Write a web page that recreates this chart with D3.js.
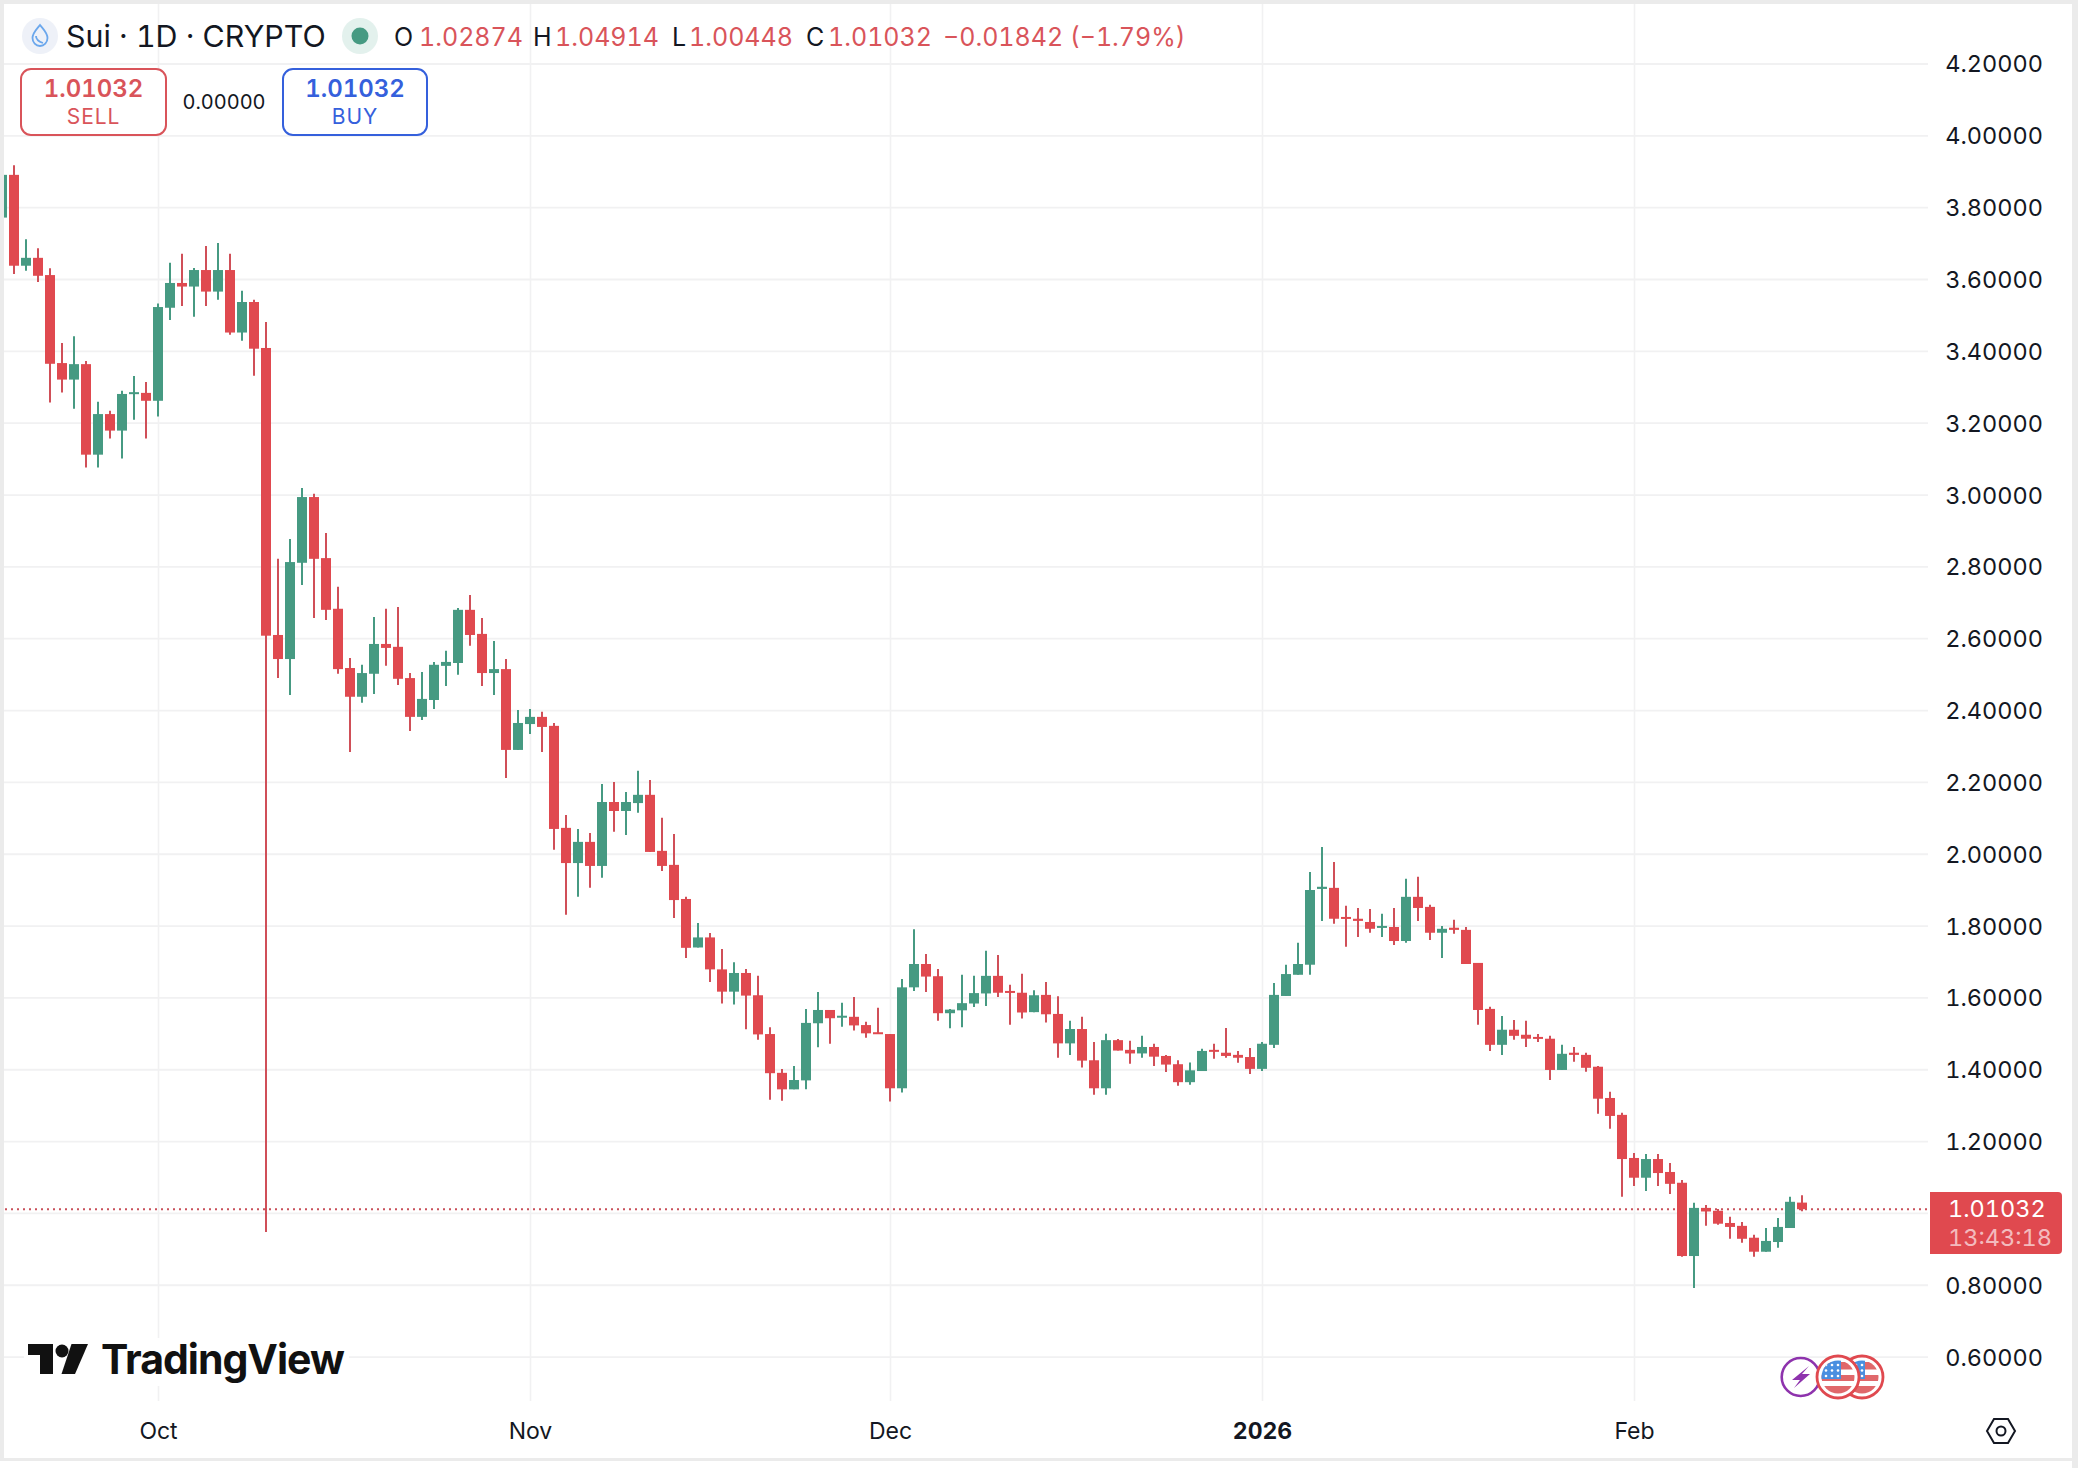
<!DOCTYPE html>
<html>
<head>
<meta charset="utf-8">
<title>Sui 1D</title>
<script src="https://d3js.org/d3.v7.min.js"></script>
<style>
	html, body { margin: 0; padding: 0; background: #fff; }
	svg { display: block; }
	text { font-family: Inter, "Noto Sans", sans-serif; fill: #131722; font-variant-numeric: tabular-nums; }
</style>
</head>
<body>
<div id="chart"></div>
<script>
// daily candles, first one is 18 Sep 2025
var firstDay = new Date(Date.UTC(2025, 8, 18));

var opens = [3.771,3.890,3.637,3.659,3.611,3.366,3.320,3.363,3.111,3.224,3.178,3.280,3.283,
	3.261,3.520,3.589,3.579,3.625,3.565,3.625,3.451,3.536,3.408,
	2.609,2.542,2.810,2.993,2.823,2.682,2.517,2.437,2.501,2.584,2.576,2.489,2.381,2.428,2.523,2.531,2.679,2.612,2.503,2.514,2.289,2.361,2.381,2.356,2.072,
	1.974,2.033,1.966,2.144,2.119,2.141,2.164,2.008,1.969,1.874,
	1.739,1.767,1.678,1.616,1.668,1.606,1.498,1.390,1.344,1.369,1.528,1.565,1.544,1.546,1.523,1.503,1.498,1.347,1.628,1.693,1.659,1.556,1.564,1.583,1.611,1.660,1.618,1.613,1.559,1.607,1.554,1.472,1.512,1.425,1.347,1.481,1.454,1.444,1.462,1.437,1.414,1.364,
	1.395,1.454,1.446,1.440,1.434,1.401,1.468,1.604,1.663,1.691,1.902,1.905,1.824,1.819,1.810,1.794,1.796,1.757,1.880,1.852,1.780,1.794,1.788,1.696,1.568,1.468,1.510,1.496,1.490,1.485,1.398,1.446,1.440,1.407,1.320,1.273,1.153,1.098,1.150,1.114,1.084,0.880,1.014,1.006,0.972,0.964,0.931,0.892,0.919,0.958,1.02874];
var highs = [3.890,3.917,3.711,3.686,3.630,3.422,3.441,3.372,3.258,3.233,3.289,3.330,3.313,
	3.532,3.645,3.670,3.631,3.692,3.700,3.670,3.567,3.542,3.480,
	2.821,2.876,3.018,3.002,2.893,2.743,2.545,2.526,2.659,2.682,2.687,2.503,2.506,2.534,2.565,2.684,2.720,2.656,2.592,2.542,2.400,2.403,2.395,2.364,2.108,
	2.069,2.058,2.194,2.200,2.172,2.231,2.205,2.100,2.055,1.880,
	1.807,1.779,1.735,1.698,1.679,1.660,1.517,1.401,1.409,1.568,1.615,1.565,1.585,1.601,1.532,1.571,1.498,1.651,1.790,1.721,1.679,1.568,1.663,1.660,1.730,1.718,1.635,1.666,1.620,1.643,1.603,1.535,1.546,1.476,1.499,1.484,1.479,1.493,1.471,1.440,1.425,1.419,
	1.457,1.471,1.515,1.451,1.459,1.476,1.640,1.691,1.752,1.949,2.019,1.977,1.855,1.849,1.846,1.833,1.849,1.930,1.936,1.858,1.799,1.816,1.796,1.696,1.574,1.548,1.537,1.535,1.498,1.493,1.468,1.462,1.446,1.409,1.337,1.279,1.167,1.164,1.164,1.139,1.092,1.028,1.022,1.011,0.989,0.975,0.939,0.958,0.986,1.045,1.04914];
var lows = [3.771,3.614,3.623,3.592,3.256,3.284,3.239,3.075,3.075,3.156,3.100,3.208,3.156,
	3.217,3.486,3.525,3.495,3.525,3.542,3.445,3.428,3.331,0.947,
	2.489,2.442,2.748,2.656,2.651,2.501,2.283,2.420,2.445,2.523,2.470,2.342,2.372,2.403,2.467,2.498,2.579,2.467,2.442,2.211,2.289,2.333,2.283,2.011,1.830,
	1.880,1.905,1.933,2.061,2.052,2.114,2.005,1.952,1.821,1.710,
	1.739,1.643,1.583,1.580,1.511,1.482,1.315,1.312,1.344,1.344,1.461,1.471,1.518,1.508,1.488,1.500,1.310,1.335,1.618,1.615,1.535,1.514,1.517,1.573,1.576,1.601,1.524,1.541,1.559,1.530,1.432,1.440,1.405,1.329,1.329,1.452,1.415,1.432,1.409,1.392,1.354,1.357,
	1.395,1.429,1.432,1.418,1.387,1.395,1.459,1.604,1.663,1.663,1.813,1.805,1.741,1.768,1.780,1.768,1.746,1.752,1.813,1.760,1.710,1.777,1.693,1.524,1.451,1.440,1.482,1.462,1.476,1.370,1.398,1.421,1.393,1.276,1.234,1.045,1.075,1.061,1.075,1.053,0.878,0.791,0.964,0.967,0.928,0.917,0.878,0.892,0.903,0.958,1.00448];
var closes = [3.890,3.637,3.659,3.609,3.364,3.320,3.363,3.111,3.224,3.178,3.280,3.285,3.261,
	3.522,3.589,3.579,3.625,3.565,3.625,3.451,3.536,3.406,2.607,
	2.542,2.812,2.993,2.821,2.679,2.514,2.437,2.503,2.584,2.573,2.487,2.381,2.431,2.526,2.534,2.679,2.609,2.503,2.514,2.289,2.364,2.381,2.353,2.069,1.974,
	2.033,1.966,2.144,2.119,2.144,2.164,2.005,1.966,1.871,1.738,
	1.767,1.678,1.616,1.668,1.605,1.497,1.389,1.344,1.370,1.529,1.565,1.542,1.549,1.522,1.500,1.500,1.347,1.628,1.693,1.658,1.556,1.566,1.584,1.612,1.660,1.613,1.614,1.558,1.606,1.553,1.472,1.512,1.424,1.347,1.481,1.452,1.444,1.462,1.435,1.413,1.364,1.397,
	1.451,1.449,1.437,1.432,1.401,1.471,1.607,1.665,1.693,1.899,1.908,1.819,1.819,1.813,1.791,1.799,1.757,1.880,1.849,1.780,1.791,1.788,1.693,1.565,1.468,1.510,1.493,1.485,1.485,1.398,1.443,1.440,1.404,1.318,1.270,1.150,1.098,1.150,1.111,1.081,0.880,1.014,1.004,0.970,0.961,0.928,0.892,0.922,0.961,1.031,1.01032];

var priceTicks = [4.2,4.0,3.8,3.6,3.4,3.2,3.0,2.8,2.6,2.4,2.2,2.0,1.8,1.6,1.4,1.2,0.8,0.6];
var gridPrices = [4.2,4.0,3.8,3.6,3.4,3.2,3.0,2.8,2.6,2.4,2.2,2.0,1.8,1.6,1.4,1.2,1.0,0.8,0.6];
var monthTicks = [new Date(Date.UTC(2025,9,1)), new Date(Date.UTC(2025,10,1)), new Date(Date.UTC(2025,11,1)), new Date(Date.UTC(2026,0,1)), new Date(Date.UTC(2026,1,1))];
var monthLabels = ["Oct","Nov","Dec","2026","Feb"];
var quote = {o:"1.02874", h:"1.04914", l:"1.00448", c:"1.01032", chg:"\u22120.01842 (\u22121.79%)"};
var lastPrice = 1.01032;

var days = opens.map(function(d, i){ return d3.utcDay.offset(firstDay, i); });

var W = 2078, H = 1468;
var red = "#e0494f", wickRed = "#d04f58", textRed = "#d9545a", green = "#469a82", blue = "#3560dc";
var left = 4, top_ = 4, plotRight = 1928, plotBottom = 1401, frameRight = 2072, frameBottom = 1458;

var svg = d3.select("#chart").append("svg").attr("width", W).attr("height", H);

// grey frame around the card, white below it
svg.append("rect").attr("width", W).attr("height", H).attr("fill", "#ebebeb");
svg.append("rect").attr("x", 0).attr("y", 1461).attr("width", frameRight).attr("height", 7).attr("fill", "#fff");
svg.append("rect").attr("x", left).attr("y", top_).attr("width", frameRight-left).attr("height", frameBottom-top_).attr("fill", "#fff");

var x = d3.scaleUtc().domain([monthTicks[0], days[days.length-1]]).range([158, 1802]);
var y = d3.scaleLinear().domain([4.2, 0.6]).range([63.5, 1356.6]);

svg.append("clipPath").attr("id", "plot").append("rect")
	.attr("x", left).attr("y", top_).attr("width", plotRight-left).attr("height", plotBottom-top_);

// grid, drawn with the axis ticks
var gridY = svg.append("g").attr("transform", "translate(" + plotRight + ",0)")
	.call(d3.axisLeft(y).tickValues(gridPrices).tickSize(plotRight-left).tickFormat(""));
gridY.select(".domain").remove();
gridY.selectAll("line").attr("stroke", "#f1f1f2").attr("stroke-width", 1.8);

var gridX = svg.append("g").attr("transform", "translate(0," + plotBottom + ")")
	.call(d3.axisTop(x).tickValues(monthTicks).tickSize(plotBottom-top_).tickFormat(""));
gridX.select(".domain").remove();
gridX.selectAll("line").attr("stroke", "#f1f1f2").attr("stroke-width", 1.6);

// TradingView mark sits on a white patch that cuts the grid
svg.append("rect").attr("x", 24).attr("y", 1338).attr("width", 325).attr("height", 48).attr("fill", "#fff");

// last price line
svg.append("line").attr("x1", left+1).attr("x2", plotRight).attr("y1", y(lastPrice)).attr("y2", y(lastPrice))
	.attr("stroke", "#c9505a").attr("stroke-width", 2).attr("stroke-dasharray", "2 4");

// candles
var candles = svg.append("g").attr("clip-path", "url(#plot)");
var rows = d3.range(days.length);
candles.selectAll("line").data(rows).join("line")
	.attr("x1", function(i){ return x(days[i]); })
	.attr("x2", function(i){ return x(days[i]); })
	.attr("y1", function(i){ return y(highs[i]); })
	.attr("y2", function(i){ return y(lows[i]); })
	.attr("stroke", function(i){ return closes[i] >= opens[i] ? green : wickRed; })
	.attr("stroke-width", 2);
candles.selectAll("rect").data(rows).join("rect")
	.attr("x", function(i){ return x(days[i]) - 5; })
	.attr("width", 10)
	.attr("y", function(i){ return y(Math.max(opens[i], closes[i])); })
	.attr("height", function(i){ return Math.max(2, Math.abs(y(opens[i]) - y(closes[i]))); })
	.attr("fill", function(i){ return closes[i] >= opens[i] ? green : red; });

// price axis
var axisY = svg.append("g").attr("transform", "translate(2043,0)")
	.call(d3.axisLeft(y).tickValues(priceTicks).tickSize(0).tickPadding(0).tickFormat(d3.format(".5f")));
axisY.select(".domain").remove();
axisY.selectAll("text").attr("font-size", 23.5).attr("dy", "0.36em").style("font-family", "Inter").style("fill", "#131722");

// time axis
var axisX = svg.append("g").attr("transform", "translate(0,1431)")
	.call(d3.axisBottom(x).tickValues(monthTicks).tickSize(0).tickPadding(0)
		.tickFormat(function(d, i){ return monthLabels[i]; }));
axisX.select(".domain").remove();
axisX.selectAll("text").attr("font-size", 23).attr("y", 0).attr("dy", "0.36em")
	.style("font-family", "Inter").style("fill", "#131722")
	.attr("font-weight", function(d, i){ return monthLabels[i] == "2026" ? 700 : 400; });

// price tag
svg.append("path").attr("fill", red)
	.attr("d", "M1930,1192H2058a4,4 0 0 1 4,4V1250a4,4 0 0 1 -4,4H1930Z");
svg.append("text").attr("x", 1948).attr("y", 1217).attr("font-size", 23.5).style("fill", "#fff").text(d3.format(".5f")(lastPrice));
svg.append("text").attr("x", 1948).attr("y", 1246).attr("font-size", 23.5).style("fill", "#fff").style("fill-opacity", 0.65).text("13:43:18");

// header
svg.append("circle").attr("cx", 40).attr("cy", 36).attr("r", 18).attr("fill", "#eef1f8");
svg.append("path").attr("fill", "none").attr("stroke", "#6ba7ec").attr("stroke-width", 1.8)
	.attr("d", "M40,25C44,30 47.5,33 47.5,38A7.5,8 0 0 1 32.5,38C32.5,33 36,30 40,25ZM36,36C36,40 40,42 43,43");
svg.append("text").attr("x", 66).attr("y", 47).attr("font-size", 30.4).text("Sui \u00b7 1D \u00b7 CRYPTO");
svg.append("circle").attr("cx", 360).attr("cy", 36).attr("r", 18).attr("fill", "#e3f1ed");
svg.append("circle").attr("cx", 360).attr("cy", 36).attr("r", 8.5).attr("fill", green);

var ohlc = [["O", 394, quote.o, 419], ["H", 533, quote.h, 555], ["L", 672, quote.l, 689], ["C", 806, quote.c, 828]];
ohlc.forEach(function(d){
	svg.append("text").attr("x", d[1]).attr("y", 46).attr("font-size", 25).text(d[0]);
	svg.append("text").attr("x", d[3]).attr("y", 46).attr("font-size", 25).style("fill", textRed).text(d[2]);
});
svg.append("text").attr("x", 943).attr("y", 46).attr("font-size", 25).style("fill", textRed).text(quote.chg);

// sell / buy boxes
function tradeBox(x0, w, col, label){
	svg.append("rect").attr("x", x0).attr("y", 69).attr("width", w).attr("height", 66).attr("rx", 10)
		.attr("fill", "#fff").attr("stroke", col).attr("stroke-width", 2);
	svg.append("text").attr("x", x0+w/2).attr("y", 97).attr("text-anchor", "middle").attr("font-size", 24)
		.attr("font-weight", 600).style("fill", col).text(quote.c);
	svg.append("text").attr("x", x0+w/2).attr("y", 124).attr("text-anchor", "middle").attr("font-size", 21)
		.attr("letter-spacing", 0.9).style("fill", col).text(label);
}
tradeBox(21, 145, textRed, "SELL");
tradeBox(283, 144, blue, "BUY");
svg.append("text").attr("x", 224).attr("y", 109).attr("text-anchor", "middle").attr("font-size", 20).text("0.00000");

// TradingView logo
svg.append("path").attr("fill", "#111").attr("d", "M28,1344H53V1374H40V1355H28Z");
svg.append("circle").attr("cx", 62).attr("cy", 1351).attr("r", 6.5).attr("fill", "#111");
svg.append("path").attr("fill", "#111").attr("d", "M71.5,1344H88L75,1374H61.5Z");
svg.append("text").attr("x", 101).attr("y", 1374).attr("font-size", 41).attr("font-weight", 700)
	.attr("letter-spacing", -1).style("fill", "#111").text("TradingView");

// event badges
var bx = svg.append("g");
bx.append("circle").attr("cx", 1800.7).attr("cy", 1377).attr("r", 19).attr("fill", "#fff").attr("stroke", "#8e33ad").attr("stroke-width", 2.6);
bx.append("path").attr("fill", "#8e33ad").attr("d", "M1809,1366L1792,1380H1800L1794,1388L1810,1374H1802Z");
function usFlag(cx){
	var id = "f" + cx;
	bx.append("circle").attr("cx", cx).attr("cy", 1377).attr("r", 21).attr("fill", "#fff").attr("stroke", red).attr("stroke-width", 2.8);
	var c = bx.append("g").attr("clip-path", "url(#" + id + ")");
	bx.append("clipPath").attr("id", id).append("circle").attr("cx", cx).attr("cy", 1377).attr("r", 16.5);
	c.append("rect").attr("x", cx-17).attr("y", 1362).attr("width", 34).attr("height", 7.5).attr("fill", "#e0686b");
	c.append("rect").attr("x", cx-17).attr("y", 1375).attr("width", 34).attr("height", 6).attr("fill", "#e0686b");
	c.append("rect").attr("x", cx-17).attr("y", 1386).attr("width", 34).attr("height", 8).attr("fill", "#e0686b");
	c.append("rect").attr("x", cx-17).attr("y", 1360).attr("width", 20).attr("height", 19).attr("fill", "#4a8fe0");
	d3.range(3).forEach(function(r){
		d3.range(3).forEach(function(k){
			c.append("circle").attr("cx", cx-12+k*6).attr("cy", 1365+r*5.5).attr("r", 1.3).attr("fill", "#fff");
		});
	});
}
usFlag(1862);
usFlag(1838);

// settings hexagon
svg.append("path").attr("fill", "none").attr("stroke", "#131722").attr("stroke-width", 2)
	.attr("d", "M1994,1419H2008L2015,1431L2008,1443H1994L1987,1431Z");
svg.append("circle").attr("cx", 2001).attr("cy", 1431).attr("r", 4.5).attr("fill", "none").attr("stroke", "#131722").attr("stroke-width", 2);
</script>
</body>
</html>
